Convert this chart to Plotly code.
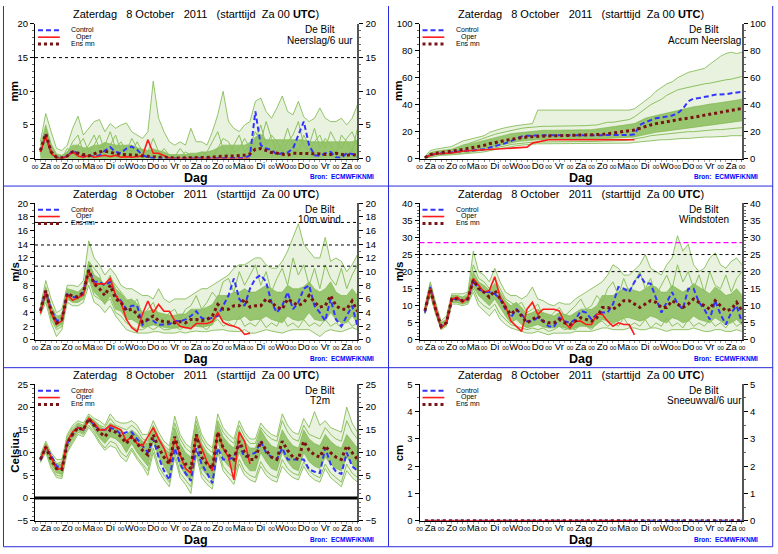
import plotly.graph_objects as go

W, H = 778, 554

# forecast steps (hours after Za 00 UTC) and day labels
HOURS = list(range(6, 361, 6))
OPER_HOURS = HOURS[:40]
DAY_NAMES = ["Za", "Zo", "Ma", "Di", "Wo", "Do", "Vr",
             "Za", "Zo", "Ma", "Di", "Wo", "Do", "Vr", "Za"]

# ---- Neerslag/6 uur (mm)
prc_ctrl = [1.0, 3.5, 1.0, 0.2, 0.1, 0.3, 1.2, 0.8, 0.3, 0.5,
            0.3, 0.5, 1.2, 1.7, 1.0, 0.8, 1.5, 1.8, 1.3, 0.5,
            0.2, 0.1, 0.0, 0.0, 0.0, 0.0, 0.0, 0.0, 0.0, 0.0,
            0.0, 0.0, 0.0, 0.0, 0.0, 0.0, 0.0, 0.0, 0.1, 0.5,
            7.0, 2.0, 1.5, 1.3, 0.6, 0.8, 0.9, 1.5, 3.5, 5.5,
            2.0, 0.5, 0.4, 0.8, 1.0, 0.2, 0.1, 0.8, 0.7, 0.3]
prc_oper = [1.0, 3.3, 0.8, 0.1, 0.0, 0.3, 1.0, 0.4, 0.2, 0.5,
            0.2, 0.3, 0.5, 0.3, 0.5, 0.2, 0.3, 0.2, 0.3, 0.4,
            2.8, 0.8, 0.8, 0.5, 0.1, 0.0, 0.0, 0.0, 0.0, 0.0,
            0.0, 0.0, 0.0, 0.0, 0.0, 0.0, 0.0, 0.0, 0.0, 0.0]
prc_mean = [1.2, 3.7, 1.0, 0.2, 0.1, 0.4, 1.0, 0.8, 0.6, 0.4,
            0.7, 1.0, 1.1, 0.9, 0.7, 0.6, 0.6, 0.6, 0.5, 0.4,
            0.3, 0.3, 0.2, 0.2, 0.1, 0.1, 0.1, 0.1, 0.1, 0.1,
            0.1, 0.1, 0.2, 0.3, 0.4, 0.4, 0.4, 0.4, 0.5, 0.7,
            1.4, 1.5, 1.2, 0.9, 0.8, 0.7, 0.5, 0.8, 0.8, 0.8,
            0.7, 0.7, 0.7, 0.6, 0.6, 0.8, 0.7, 0.5, 0.6, 0.5]
prc_lo = [0.0] * 60
prc_hi = [2.0, 5.0, 2.2, 0.7, 0.5, 1.0, 2.0, 2.0, 1.6, 1.6,
          2.0, 2.0, 2.4, 2.2, 2.0, 2.0, 2.0, 2.0, 1.6, 1.4,
          1.2, 1.4, 1.2, 1.0, 0.6, 0.6, 0.6, 0.6, 0.8, 0.8,
          1.0, 1.0, 1.2, 1.6, 2.0, 2.0, 2.0, 2.0, 2.0, 2.4,
          3.2, 3.6, 2.8, 2.8, 2.8, 2.8, 2.8, 2.8, 2.8, 2.8,
          2.5, 2.5, 2.5, 2.5, 2.5, 2.5, 2.5, 2.5, 2.5, 2.8]
prc_min = [0.0] * 60
prc_max = [2.5, 6.7, 4.0, 1.5, 1.2, 2.0, 4.5, 6.3, 3.5, 4.5,
           5.5, 5.8, 4.0, 5.2, 4.5, 5.0, 5.3, 4.0, 3.5, 3.0,
           4.0, 11.5, 6.0, 4.0, 2.5, 2.0, 2.5, 2.0, 4.5, 2.5,
           2.5, 2.0, 4.0, 6.5, 10.0, 5.5, 4.5, 4.0, 5.0, 5.5,
           8.5, 9.0, 7.0, 6.0, 7.5, 9.3, 7.0, 6.5, 8.5, 6.2,
           5.5, 6.0, 7.5, 6.0, 5.5, 5.5, 6.0, 5.0, 6.0, 8.0]
prc_m1 = [0.5, 4.5, 2.0, 0.3, 0.2, 0.8, 2.5, 3.5, 1.0, 2.0,
          3.5, 1.5, 2.0, 4.0, 1.5, 2.5, 1.0, 3.0, 1.5, 0.5,
          1.0, 3.0, 1.0, 0.5, 0.2, 0.3, 1.5, 0.5, 0.2, 0.5,
          0.3, 1.0, 2.5, 4.0, 1.5, 0.5, 2.0, 3.5, 1.0, 2.0,
          4.0, 2.5, 5.5, 3.0, 1.0, 2.0, 4.5, 2.0, 1.0, 3.5,
          2.0, 4.5, 1.5, 3.0, 2.0, 0.5, 3.5, 2.5, 1.0, 4.5]
prc_m2 = [1.5, 3.0, 0.5, 0.0, 0.0, 1.5, 1.0, 2.0, 3.0, 1.0,
          2.0, 3.5, 1.0, 2.0, 3.5, 1.0, 2.0, 1.0, 2.5, 1.0,
          0.5, 1.5, 0.5, 1.5, 0.5, 0.2, 0.2, 1.0, 0.5, 0.2,
          1.0, 0.5, 0.2, 1.5, 3.0, 2.5, 1.0, 1.5, 3.0, 1.5,
          2.5, 5.0, 2.0, 3.5, 2.5, 1.0, 2.5, 3.5, 5.5, 2.0,
          1.0, 2.5, 3.5, 1.5, 4.0, 2.5, 1.5, 3.0, 4.0, 2.0]

# ---- Accum Neerslag (mm)
acc_ctrl = [0.5, 2.5, 3.5, 4.0, 4.2, 4.5, 5.2, 5.5, 5.8, 6.0,
            6.5, 7.0, 8.0, 9.5, 10.5, 11.5, 13.0, 15.0, 16.5, 17.0,
            17.2, 17.3, 17.3, 17.3, 17.3, 17.3, 17.3, 17.3, 17.3, 17.3,
            17.3, 17.3, 17.3, 17.3, 17.3, 17.3, 17.3, 17.4, 17.5, 18.0,
            25.0, 27.0, 28.5, 30.0, 30.5, 31.3, 32.0, 33.5, 37.0, 42.5,
            44.5, 45.0, 45.5, 46.5, 47.5, 47.7, 47.8, 48.6, 49.3, 49.6]
acc_oper = [0.5, 2.5, 3.5, 4.0, 4.0, 4.2, 5.0, 5.5, 5.8, 6.0,
            6.2, 6.5, 6.8, 7.0, 7.3, 7.5, 7.8, 8.0, 8.3, 8.5,
            11.5, 12.5, 13.5, 14.0, 14.0, 14.0, 14.0, 14.0, 14.0, 14.0,
            14.0, 14.0, 14.0, 14.0, 14.0, 14.0, 14.0, 14.0, 14.0, 14.0]
acc_mean = [0.6, 3.0, 4.0, 4.5, 4.7, 5.0, 6.0, 6.8, 7.5, 8.0,
            8.8, 9.8, 11.0, 12.0, 12.8, 13.5, 14.3, 15.0, 15.5, 16.0,
            16.3, 16.6, 16.8, 17.0, 17.0, 17.0, 17.1, 17.1, 17.2, 17.3,
            17.4, 17.5, 17.7, 18.0, 18.5, 19.0, 19.5, 20.0, 20.5, 21.2,
            22.5, 24.0, 25.0, 26.0, 26.8, 27.5, 28.2, 28.8, 29.5, 30.0,
            30.7, 31.5, 32.3, 33.0, 33.8, 34.5, 35.2, 36.0, 36.7, 37.3]
acc_lo = [0.2, 2.0, 3.0, 3.5, 3.5, 3.8, 4.5, 5.0, 5.5, 6.0,
          6.5, 7.0, 8.0, 9.0, 10.0, 11.0, 12.0, 12.5, 13.0, 13.5,
          13.8, 14.0, 14.0, 14.0, 14.0, 14.0, 14.0, 14.0, 14.2, 14.3,
          14.4, 14.5, 14.6, 14.8, 15.0, 15.2, 15.4, 15.6, 15.8, 16.0,
          17.0, 18.0, 19.0, 19.5, 20.0, 20.5, 21.0, 21.5, 22.0, 22.5,
          23.0, 23.5, 24.0, 24.5, 25.0, 25.5, 26.0, 26.5, 27.0, 28.0]
acc_hi = [1.0, 4.5, 5.5, 6.0, 6.5, 7.0, 8.5, 9.5, 10.5, 11.5,
          12.5, 13.5, 15.0, 16.0, 17.0, 18.0, 18.5, 19.0, 19.5, 20.0,
          20.5, 21.0, 21.0, 21.0, 21.0, 21.0, 21.0, 21.0, 21.5, 21.5,
          21.5, 21.5, 22.0, 22.5, 23.0, 23.5, 24.0, 24.5, 25.0, 26.0,
          28.0, 30.0, 31.0, 32.0, 33.0, 34.0, 35.0, 36.0, 37.0, 38.0,
          38.5, 39.0, 40.0, 40.5, 41.0, 41.5, 42.0, 42.5, 43.0, 44.0]
acc_min = [0.0, 1.0, 2.0, 2.5, 2.5, 2.8, 3.0, 3.2, 3.5, 4.0,
           4.5, 5.0, 6.0, 7.0, 7.5, 8.0, 9.0, 9.5, 10.0, 10.5,
           11.0, 11.0, 11.0, 11.0, 11.0, 11.0, 11.0, 11.0, 11.0, 11.0,
           11.0, 11.0, 11.0, 11.0, 11.0, 11.0, 11.0, 11.0, 11.5, 12.0,
           12.5, 13.0, 13.0, 13.5, 14.0, 14.0, 14.5, 14.5, 15.0, 15.0,
           15.5, 15.5, 16.0, 16.0, 16.0, 16.5, 16.5, 17.0, 17.0, 17.0]
acc_max = [1.5, 6.0, 7.0, 7.5, 8.0, 9.0, 11.0, 13.0, 14.0, 15.0,
           16.0, 17.0, 19.5, 21.0, 22.0, 23.0, 24.0, 24.5, 25.0, 25.5,
           26.0, 36.0, 36.0, 36.0, 36.0, 36.0, 36.0, 36.0, 36.0, 36.0,
           36.0, 36.0, 36.0, 36.0, 36.0, 36.0, 36.0, 36.0, 36.0, 37.0,
           40.0, 43.0, 46.0, 50.0, 53.0, 55.5, 57.0, 60.0, 62.0, 64.0,
           65.0, 66.0, 67.0, 70.0, 73.0, 76.0, 78.0, 79.0, 78.0, 79.0]
acc_m1 = [0.8, 4.0, 5.0, 5.5, 6.0, 6.5, 8.0, 10.0, 11.0, 12.5,
          14.0, 15.0, 16.5, 18.0, 19.0, 20.0, 21.0, 22.0, 22.5, 23.0,
          23.5, 24.0, 24.0, 24.0, 24.0, 24.0, 24.0, 24.2, 24.5, 24.5,
          24.5, 24.8, 25.0, 26.0, 27.0, 27.0, 27.5, 28.0, 29.0, 31.0,
          34.0, 37.0, 40.0, 42.0, 44.0, 47.0, 49.0, 51.0, 52.0, 53.0,
          54.0, 55.0, 55.5, 56.0, 57.0, 58.0, 58.5, 59.0, 60.0, 61.0]
acc_m2 = [0.2, 1.5, 2.5, 3.0, 3.0, 3.2, 3.5, 4.0, 4.5, 5.0,
          5.5, 6.0, 7.0, 8.0, 8.5, 9.5, 10.5, 11.0, 11.5, 12.0,
          12.2, 12.3, 12.3, 12.3, 12.3, 12.3, 12.3, 12.3, 12.5, 12.5,
          12.5, 12.5, 12.8, 13.0, 13.0, 13.2, 13.5, 13.5, 14.0, 14.5,
          15.0, 16.0, 17.0, 17.5, 18.0, 18.0, 18.5, 19.0, 19.5, 20.0,
          20.0, 20.5, 21.0, 21.0, 21.5, 21.5, 22.0, 22.0, 22.5, 23.0]

# ---- 10m wind (m/s)
w_ctrl = [4.2, 7.0, 4.5, 2.8, 3.0, 6.7, 6.3, 6.2, 7.0, 10.3,
          8.5, 8.5, 8.0, 8.5, 6.5, 5.7, 4.5, 5.0, 5.0, 2.2,
          3.0, 2.8, 2.2, 2.2, 2.3, 2.8, 2.7, 3.0, 3.5, 4.2,
          3.2, 3.0, 3.2, 3.5, 5.0, 6.5, 9.0, 6.0, 5.0, 7.5,
          9.0, 9.5, 8.5, 5.5, 4.0, 5.0, 7.0, 4.5, 5.5, 7.5,
          8.0, 5.0, 4.0, 2.8, 6.0, 3.0, 2.0, 3.5, 5.0, 2.0]
w_oper = [3.9, 7.0, 4.0, 2.3, 2.8, 6.6, 5.8, 6.2, 6.6, 10.2,
          8.2, 8.2, 8.2, 9.0, 6.5, 5.5, 3.0, 1.8, 1.2, 3.8,
          5.7, 4.0, 5.2, 4.2, 4.2, 2.8, 2.0, 1.8, 1.7, 2.4,
          2.4, 2.4, 2.7, 4.0, 2.6, 2.2, 2.0, 1.7, 0.8, 1.0]
w_mean = [4.3, 7.2, 4.2, 2.5, 3.0, 6.8, 6.4, 6.3, 7.0, 10.2,
          8.2, 7.5, 6.5, 8.0, 6.0, 5.5, 4.3, 4.5, 3.8, 2.6,
          3.0, 3.5, 2.8, 2.7, 2.5, 2.5, 2.7, 2.5, 3.0, 3.0,
          2.8, 3.0, 3.5, 5.2, 4.5, 4.5, 5.0, 5.0, 6.0, 4.8,
          5.0, 5.0, 6.0, 5.5, 4.8, 4.5, 6.0, 5.5, 5.0, 5.5,
          6.5, 5.5, 4.8, 5.0, 6.5, 5.0, 4.5, 4.5, 5.7, 4.2]
w_lo = [3.8, 6.0, 3.4, 1.8, 2.3, 6.0, 5.6, 5.6, 6.2, 9.0,
        7.0, 6.2, 5.2, 6.5, 4.5, 4.2, 3.0, 3.0, 2.5, 1.8,
        2.0, 2.2, 2.0, 1.8, 1.7, 1.7, 1.9, 1.8, 2.0, 2.0,
        1.9, 2.0, 2.2, 3.5, 3.0, 2.8, 3.0, 3.0, 3.5, 2.8,
        3.0, 3.0, 3.5, 3.0, 2.8, 2.5, 3.5, 3.0, 2.8, 3.0,
        4.0, 3.0, 2.8, 2.8, 4.0, 3.0, 2.5, 2.5, 3.5, 2.5]
w_hi = [4.8, 7.8, 5.0, 3.3, 3.8, 7.5, 7.3, 7.0, 7.8, 11.5,
        9.5, 9.0, 8.0, 9.5, 7.5, 6.8, 5.8, 6.0, 5.3, 4.0,
        4.2, 4.5, 4.0, 3.8, 3.6, 3.6, 3.8, 3.8, 4.5, 4.5,
        4.5, 4.8, 5.2, 6.5, 6.5, 6.5, 7.0, 7.0, 7.5, 7.0,
        7.0, 7.5, 8.0, 7.5, 7.0, 7.0, 8.0, 7.5, 7.5, 7.8,
        8.5, 7.5, 7.0, 7.5, 8.5, 7.0, 6.5, 6.5, 7.5, 6.5]
w_min = [3.6, 5.5, 2.5, 0.5, 1.5, 5.5, 5.0, 5.0, 5.5, 8.0,
         5.5, 5.0, 4.0, 5.0, 3.5, 2.5, 1.5, 1.2, 1.0, 1.0,
         1.0, 1.2, 1.2, 1.0, 1.0, 1.0, 1.2, 1.0, 1.2, 1.3,
         1.2, 1.2, 1.4, 1.5, 1.5, 1.3, 1.2, 1.2, 1.5, 1.0,
         1.0, 1.2, 1.5, 1.3, 1.2, 1.0, 1.3, 1.5, 1.5, 1.5,
         1.5, 1.0, 0.5, 1.2, 1.5, 1.3, 1.2, 1.5, 1.8, 1.5]
w_max = [5.0, 8.7, 6.0, 4.0, 4.5, 8.0, 8.0, 7.8, 8.7, 14.5,
         12.0, 11.0, 9.5, 10.5, 9.5, 8.0, 7.5, 7.5, 7.0, 6.5,
         6.5, 6.0, 7.5, 6.0, 5.5, 6.0, 6.0, 6.0, 6.5, 7.0,
         7.5, 7.5, 8.0, 8.5, 9.0, 9.5, 10.5, 11.0, 11.0, 11.5,
         12.0, 12.0, 11.0, 10.5, 10.5, 11.5, 13.0, 15.0, 17.0, 14.0,
         13.0, 12.0, 12.0, 15.0, 11.5, 12.0, 11.5, 10.0, 11.0, 12.5]
w_m1 = [4.5, 7.5, 5.0, 3.5, 3.5, 7.0, 7.0, 6.5, 7.5, 11.5,
        10.5, 9.5, 7.0, 9.0, 8.0, 7.0, 6.0, 5.0, 6.0, 3.5,
        4.5, 5.5, 3.5, 3.0, 4.0, 4.5, 3.0, 4.5, 5.0, 6.5,
        4.5, 5.5, 7.0, 6.0, 8.5, 9.0, 7.0, 10.0, 8.0, 9.5,
        11.0, 8.0, 10.0, 7.0, 9.0, 10.5, 8.0, 12.0, 9.5, 11.0,
        8.0, 10.5, 7.5, 11.0, 9.0, 8.0, 10.5, 7.5, 9.5, 11.0]
w_m2 = [4.0, 6.5, 3.0, 1.5, 2.0, 6.0, 5.5, 5.5, 6.0, 9.0,
        6.5, 6.0, 5.5, 6.0, 4.0, 3.5, 2.5, 2.0, 1.5, 1.5,
        2.0, 1.5, 2.0, 1.5, 1.5, 2.0, 1.5, 2.0, 1.5, 2.5,
        2.0, 1.5, 2.5, 3.0, 2.0, 2.5, 2.0, 3.5, 2.0, 2.5,
        2.0, 3.0, 1.8, 2.5, 2.0, 3.5, 2.0, 2.5, 1.8, 3.0,
        2.0, 2.5, 2.0, 3.0, 2.0, 2.5, 1.8, 3.0, 2.0, 2.5]

# ---- Windstoten (m/s)
g_ctrl = [8.0, 15.5, 9.0, 4.0, 5.0, 12.0, 12.0, 11.5, 12.0, 17.5,
          15.0, 14.0, 14.0, 13.5, 12.0, 9.0, 6.5, 9.0, 7.5, 5.5,
          5.5, 6.5, 5.5, 4.0, 3.8, 6.5, 5.5, 5.0, 6.0, 8.5,
          8.0, 6.0, 7.5, 8.0, 8.0, 10.5, 15.5, 15.0, 14.0, 17.0,
          19.0, 16.5, 16.5, 12.0, 8.0, 11.0, 14.0, 10.5, 9.0, 15.0,
          15.0, 11.0, 9.0, 6.0, 11.5, 7.5, 4.5, 8.0, 10.0, 5.0]
g_oper = [9.0, 15.0, 9.0, 3.5, 5.0, 12.0, 12.5, 11.0, 12.5, 18.0,
          16.0, 14.0, 14.5, 18.5, 12.5, 10.0, 5.5, 4.0, 2.5, 9.0,
          11.0, 7.5, 9.0, 9.0, 9.0, 8.5, 5.0, 3.5, 5.5, 5.5,
          4.5, 4.5, 7.5, 7.5, 5.5, 4.0, 5.0, 4.5, 4.5, 1.5]
g_mean = [8.5, 15.0, 9.0, 4.0, 5.0, 12.0, 12.0, 11.5, 12.0, 17.5,
          15.0, 14.0, 12.5, 14.5, 12.0, 9.5, 7.5, 9.0, 7.0, 5.0,
          6.0, 7.0, 5.5, 5.0, 5.0, 6.0, 5.0, 4.5, 5.5, 6.5,
          6.0, 5.5, 6.5, 9.5, 9.5, 9.0, 10.0, 11.5, 11.5, 10.5,
          9.5, 10.5, 11.5, 11.0, 9.5, 9.5, 11.5, 10.5, 9.5, 10.5,
          12.0, 11.0, 10.0, 9.0, 11.5, 10.0, 8.5, 9.0, 11.0, 8.5]
g_lo = [7.8, 13.5, 8.0, 3.3, 4.3, 11.0, 11.0, 10.5, 11.0, 15.5,
        13.0, 11.5, 10.0, 12.0, 9.5, 7.0, 5.0, 6.0, 4.5, 3.5,
        4.0, 4.5, 3.8, 3.5, 3.5, 4.0, 3.5, 3.0, 3.5, 4.0,
        4.0, 3.5, 4.5, 6.0, 5.5, 5.0, 5.5, 6.5, 6.5, 6.0,
        5.5, 6.0, 7.0, 6.5, 5.5, 5.0, 6.5, 6.0, 5.0, 5.5,
        7.0, 6.0, 5.5, 5.0, 6.5, 5.5, 4.5, 5.0, 6.0, 4.5]
g_hi = [9.5, 16.0, 10.0, 5.0, 6.0, 13.0, 13.0, 12.5, 13.0, 20.0,
        17.0, 16.0, 14.5, 16.5, 14.0, 11.5, 10.0, 11.0, 9.5, 7.5,
        8.0, 9.0, 8.0, 7.5, 7.0, 8.0, 7.5, 7.0, 8.0, 9.0,
        9.0, 9.0, 10.0, 13.0, 13.0, 13.0, 14.0, 15.0, 15.0, 14.5,
        14.0, 15.0, 16.0, 15.5, 14.0, 14.0, 16.0, 15.0, 14.0, 15.0,
        16.5, 15.5, 14.5, 13.5, 15.5, 14.5, 13.0, 13.5, 15.0, 13.0]
g_min = [7.5, 13.0, 7.5, 3.0, 4.0, 10.5, 10.5, 10.0, 10.5, 14.0,
         10.0, 8.5, 7.0, 9.0, 6.0, 4.5, 3.5, 3.0, 2.5, 2.0,
         2.0, 2.5, 2.0, 1.5, 2.0, 2.0, 2.0, 2.0, 2.5, 2.5,
         2.5, 2.5, 3.0, 3.5, 3.5, 3.0, 3.0, 3.0, 3.5, 3.5,
         3.0, 3.0, 3.5, 3.5, 3.0, 2.5, 3.0, 3.0, 3.0, 3.0,
         3.5, 3.0, 2.5, 2.5, 3.0, 3.0, 2.5, 2.5, 3.0, 2.5]
g_max = [10.0, 17.0, 11.0, 5.5, 7.0, 13.5, 13.5, 13.5, 14.0, 26.0,
         20.0, 19.0, 17.0, 21.0, 17.0, 14.0, 13.0, 13.0, 12.0, 13.0,
         15.5, 12.0, 11.5, 10.5, 10.0, 11.0, 10.5, 10.5, 12.0, 13.0,
         14.0, 15.0, 16.0, 17.0, 19.0, 22.0, 21.0, 19.0, 19.0, 20.5,
         22.0, 25.0, 21.0, 20.0, 19.0, 22.0, 24.0, 30.5, 26.0, 28.0,
         22.0, 20.0, 21.0, 24.0, 25.5, 22.0, 21.0, 23.0, 24.0, 22.0]
g_m1 = [9.0, 16.5, 10.5, 5.0, 6.0, 13.0, 13.0, 12.5, 13.5, 22.0,
        18.0, 17.0, 15.0, 18.0, 15.0, 12.0, 11.0, 10.0, 11.0, 8.0,
        9.0, 10.5, 7.0, 6.5, 8.0, 9.5, 7.0, 8.5, 10.0, 12.0,
        9.0, 10.0, 13.0, 11.0, 15.0, 17.0, 13.0, 18.0, 14.0, 17.0,
        20.0, 15.0, 18.0, 13.0, 16.0, 19.0, 15.0, 22.0, 17.0, 20.0,
        15.0, 19.0, 14.0, 20.0, 16.0, 15.0, 19.0, 14.0, 18.0, 20.0]
g_m2 = [8.0, 14.0, 8.0, 3.5, 4.5, 11.0, 11.0, 10.5, 11.0, 15.0,
        11.5, 10.0, 9.0, 10.5, 7.5, 6.0, 4.5, 4.0, 3.5, 3.0,
        3.5, 3.0, 3.5, 2.5, 3.0, 4.0, 3.0, 3.5, 3.0, 5.0,
        4.0, 3.0, 5.0, 5.5, 4.0, 5.0, 4.0, 6.5, 4.0, 5.0,
        4.0, 6.0, 3.5, 5.0, 4.0, 6.5, 4.0, 5.0, 3.5, 6.0,
        4.0, 5.0, 4.0, 6.0, 4.0, 5.0, 3.5, 6.0, 4.0, 5.0]

# ---- T2m (Celsius)
t_ctrl = [8.3, 11.0, 9.5, 7.0, 6.8, 12.0, 14.0, 15.5, 15.0, 17.5,
          16.0, 15.0, 15.0, 15.5, 15.0, 14.0, 14.5, 14.5, 13.0, 11.5,
          10.0, 13.0, 9.0, 6.0, 4.0, 11.0, 7.5, 5.5, 3.8, 11.0,
          7.5, 5.5, 3.3, 11.0, 8.5, 8.5, 9.0, 11.5, 9.0, 9.5,
          10.0, 12.5, 10.0, 9.0, 8.5, 11.0, 8.5, 8.5, 8.5, 8.5,
          6.3, 5.8, 5.5, 11.0, 7.5, 5.8, 5.3, 10.0, 7.0, 6.0]
t_oper = [8.5, 11.5, 9.0, 6.3, 6.5, 12.5, 14.5, 15.5, 15.0, 17.5,
          16.5, 15.0, 15.0, 16.0, 15.5, 15.0, 12.5, 13.5, 12.0, 11.5,
          13.5, 15.5, 13.0, 11.0, 7.5, 13.0, 9.5, 6.5, 5.5, 14.0,
          11.0, 8.0, 6.0, 14.5, 11.0, 9.0, 4.0, 14.5, 12.5, 7.5]
t_mean = [8.5, 11.2, 8.5, 6.5, 6.3, 12.0, 14.0, 15.5, 15.0, 17.5,
          16.0, 14.5, 13.5, 15.0, 14.5, 13.5, 12.0, 13.5, 12.0, 10.5,
          9.5, 14.0, 11.0, 9.0, 7.5, 13.5, 9.5, 7.5, 6.5, 14.0,
          9.0, 7.5, 6.5, 14.5, 11.0, 9.5, 8.5, 12.5, 10.0, 8.5,
          8.5, 12.5, 10.5, 9.0, 8.5, 12.5, 10.5, 9.0, 8.5, 12.5,
          10.5, 9.5, 9.0, 11.5, 10.0, 9.0, 8.5, 11.5, 10.0, 8.5]
t_lo = [8.0, 10.5, 7.5, 5.5, 5.2, 11.0, 13.0, 14.8, 14.2, 16.8,
        15.0, 13.2, 12.0, 13.5, 13.0, 12.0, 10.0, 12.0, 10.0, 8.5,
        7.0, 12.5, 9.0, 7.0, 5.0, 11.5, 7.0, 5.0, 4.0, 12.0,
        6.5, 5.0, 4.0, 12.5, 8.5, 7.0, 6.0, 10.0, 7.5, 6.0,
        6.0, 10.0, 8.0, 6.5, 6.0, 10.0, 8.0, 6.5, 6.0, 10.0,
        8.0, 7.0, 6.5, 9.0, 7.5, 6.5, 6.0, 9.0, 7.5, 6.0]
t_hi = [9.0, 12.0, 9.5, 7.5, 7.5, 13.0, 15.0, 16.3, 15.8, 18.0,
        17.0, 15.8, 15.0, 16.5, 15.8, 15.0, 14.0, 15.0, 14.0, 12.5,
        12.0, 15.5, 13.0, 11.0, 10.0, 15.5, 12.0, 10.0, 9.0, 16.0,
        12.0, 10.0, 9.0, 16.5, 13.5, 12.0, 11.0, 15.0, 12.5, 11.0,
        11.0, 15.0, 13.0, 11.5, 11.0, 15.0, 13.0, 11.5, 11.0, 15.0,
        13.0, 12.0, 11.5, 14.0, 12.5, 11.5, 11.0, 14.0, 12.5, 11.0]
t_min = [7.8, 10.0, 6.5, 4.5, 4.3, 10.0, 12.0, 14.0, 13.5, 15.5,
         14.0, 12.0, 10.5, 11.5, 11.0, 9.0, 8.0, 10.5, 8.5, 7.0,
         5.0, 10.0, 6.0, 4.0, 2.5, 9.0, 4.5, 3.0, 1.0, 9.5,
         4.5, 3.0, 2.0, 10.0, 6.0, 4.5, 3.0, 7.5, 5.0, 4.0,
         3.5, 7.0, 5.0, 4.0, 3.5, 7.0, 5.5, 4.5, 4.0, 7.0,
         5.0, 4.0, 3.5, 6.5, 4.5, 3.5, 2.5, 6.0, 4.5, 3.5]
t_max = [9.5, 12.5, 10.0, 8.5, 8.5, 14.0, 16.0, 17.0, 16.5, 18.5,
         17.5, 17.0, 16.0, 18.5, 17.0, 16.5, 16.5, 17.0, 16.0, 14.0,
         14.0, 17.0, 14.5, 12.5, 11.5, 18.0, 14.0, 12.0, 11.0, 18.0,
         14.0, 12.0, 11.0, 18.5, 15.5, 14.0, 13.0, 17.0, 14.5, 13.0,
         13.0, 16.5, 15.0, 14.0, 13.5, 18.5, 16.0, 14.5, 14.0, 17.5,
         15.5, 19.0, 16.0, 17.0, 15.5, 15.0, 14.5, 20.0, 16.5, 14.5]
t_m1 = [8.8, 12.0, 9.5, 7.5, 8.0, 13.5, 15.5, 16.5, 16.0, 18.0,
        17.0, 16.0, 15.5, 17.5, 16.0, 15.5, 15.0, 16.0, 15.0, 13.0,
        12.5, 16.0, 13.5, 11.5, 10.5, 16.5, 13.0, 11.0, 10.0, 17.0,
        13.0, 11.0, 10.0, 17.0, 14.5, 13.0, 12.0, 16.0, 13.5, 12.0,
        12.0, 15.5, 14.0, 13.0, 12.5, 17.0, 14.5, 13.0, 12.5, 16.0,
        14.0, 13.5, 13.0, 15.5, 14.0, 13.0, 12.5, 17.0, 14.5, 13.0]
t_m2 = [8.0, 10.5, 7.0, 5.0, 4.8, 10.5, 12.5, 14.5, 14.0, 16.0,
        14.5, 12.5, 11.0, 12.5, 12.0, 10.0, 9.0, 11.0, 9.0, 7.5,
        6.0, 11.0, 7.0, 5.0, 3.5, 10.0, 5.5, 4.0, 2.5, 10.5,
        5.5, 4.0, 3.0, 11.0, 7.0, 5.5, 4.5, 8.5, 6.0, 5.0,
        4.5, 8.0, 6.0, 5.0, 4.5, 8.5, 6.5, 5.5, 5.0, 8.0,
        6.0, 5.0, 4.5, 7.5, 5.5, 4.5, 3.5, 7.5, 5.5, 4.5]

# ---- Sneeuwval/6 uur (cm): nothing forecast
snow_ctrl = [0.0] * 60
snow_oper = [0.0] * 40
snow_mean = [0.0] * 60

# threshold lines
PRC_LINES = [15]
WIND_LINES = [10.8, 13.9, 17.2]
GUST_LINES = [20, 25]
GUST_WARN = 28.5

GREEN = "#7ab648"
MEMBER = "#8cc060"
CORE = "rgba(118,178,62,0.70)"
OUTER = "rgba(140,192,96,0.20)"
C_CTRL = "#3333ff"
C_OPER = "#ff1a1a"
C_MEAN = "#7a1414"
FRAME = "#2a2ae0"
FONT = "Liberation Sans, Arial, sans-serif"

# pixel geometry of the plot areas
COLS = [(32.3, 357.7), (420.3, 745.7)]
ROWS = [(18.3, 155.7), (201.3, 340.7), (386.0, 525.3)]

PANELS = [
    dict(name="Neerslag/6 uur", unit="mm", rng=[0, 20], dtick=5, minor=1,
         ctrl=prc_ctrl, oper=prc_oper, mean=prc_mean, lo=prc_lo, hi=prc_hi,
         mn=prc_min, mx=prc_max, members=[prc_m1, prc_m2], dots=PRC_LINES),
    dict(name="Accum Neerslag", unit="mm", rng=[0, 100], dtick=20, minor=5,
         ctrl=acc_ctrl, oper=acc_oper, mean=acc_mean, lo=acc_lo, hi=acc_hi,
         mn=acc_min, mx=acc_max, members=[acc_m1, acc_m2], dots=[]),
    dict(name="10m wind", unit="m/s", rng=[0, 20], dtick=2, minor=1,
         ctrl=w_ctrl, oper=w_oper, mean=w_mean, lo=w_lo, hi=w_hi,
         mn=w_min, mx=w_max, members=[w_m1, w_m2], dots=WIND_LINES),
    dict(name="Windstoten", unit="m/s", rng=[0, 40], dtick=5, minor=1,
         ctrl=g_ctrl, oper=g_oper, mean=g_mean, lo=g_lo, hi=g_hi,
         mn=g_min, mx=g_max, members=[g_m1, g_m2], dots=GUST_LINES),
    dict(name="T2m", unit="Celsius", rng=[-5, 25], dtick=5, minor=1,
         ctrl=t_ctrl, oper=t_oper, mean=t_mean, lo=t_lo, hi=t_hi,
         mn=t_min, mx=t_max, members=[t_m1, t_m2], dots=[]),
    dict(name="Sneeuwval/6 uur", unit="cm", rng=[0, 5], dtick=1, minor=0.5,
         ctrl=snow_ctrl, oper=snow_oper, mean=snow_mean, lo=None, hi=None,
         mn=None, mx=None, members=[], dots=[]),
]

TITLE = ("Zaterdag\u00a0\u00a0 8 October\u00a0\u00a0 2011\u00a0\u00a0 "
         "(starttijd\u00a0 Za 00 <b>UTC</b>)")


def px(x):
    return x / W


def py(y):
    return 1 - y / H


fig = go.Figure()
shapes = []
annotations = []
layout = {}

for i, p in enumerate(PANELS, start=1):
    col = (i - 1) % 2
    row = (i - 1) // 2
    x0, x1 = COLS[col]
    top, bot = ROWS[row]
    xa = "x" if i == 1 else "x%d" % i
    ya = "y" if i == 1 else "y%d" % i
    yr = "y%d" % (i + 6)
    x00 = "x%d" % (i + 12)
    xk = "xaxis" if i == 1 else "xaxis%d" % i
    yk = "yaxis" if i == 1 else "yaxis%d" % i

    common = dict(mode="lines", xaxis=xa, yaxis=ya, hoverinfo="skip",
                  showlegend=False)
    if p["mx"] is not None:
        fig.add_trace(go.Scatter(x=HOURS, y=p["mn"],
                                 line=dict(color=GREEN, width=0.8), **common))
        fig.add_trace(go.Scatter(x=HOURS, y=p["mx"], fill="tonexty",
                                 fillcolor=OUTER,
                                 line=dict(color=GREEN, width=0.8), **common))
        fig.add_trace(go.Scatter(x=HOURS, y=p["lo"],
                                 line=dict(color=GREEN, width=0.6), **common))
        fig.add_trace(go.Scatter(x=HOURS, y=p["hi"], fill="tonexty",
                                 fillcolor=CORE,
                                 line=dict(color=GREEN, width=0.6), **common))
    for m in p["members"]:
        fig.add_trace(go.Scatter(x=HOURS, y=m,
                                 line=dict(color=MEMBER, width=1), **common))
    fig.add_trace(go.Scatter(x=HOURS, y=p["ctrl"],
                             line=dict(color=C_CTRL, width=2, dash="5px,3px"),
                             **common))
    fig.add_trace(go.Scatter(x=OPER_HOURS, y=p["oper"],
                             line=dict(color=C_OPER, width=1.6), **common))
    fig.add_trace(go.Scatter(x=HOURS, y=p["mean"],
                             line=dict(color=C_MEAN, width=3, dash="3px,3px"),
                             **common))
    # empty traces so the right-hand y axis and the "00" x axis are drawn
    fig.add_trace(go.Scatter(x=[None], y=[None], xaxis=xa, yaxis=yr,
                             showlegend=False, hoverinfo="skip"))
    fig.add_trace(go.Scatter(x=[None], y=[None], xaxis=x00, yaxis=ya,
                             showlegend=False, hoverinfo="skip"))

    # day names at midday
    layout[xk] = dict(
        domain=[px(x0), px(x1)], anchor=ya, range=[0, 360],
        tickmode="array", tickvals=[24 * k + 12 for k in range(15)],
        ticktext=DAY_NAMES, tickangle=0, ticks="",
        ticklabelstandoff=-2,
        tickfont=dict(size=9.5, color="black"),
        showline=True, linecolor="black", linewidth=1,
        showgrid=False, zeroline=False, fixedrange=True)
    # "00" at every day boundary
    layout["xaxis%d" % (i + 12)] = dict(
        overlaying=xa, anchor=ya, side="bottom", range=[0, 360],
        tickmode="array", tickvals=[24 * k for k in range(16)],
        ticktext=["00"] * 16, tickangle=0,
        ticks="outside", ticklen=2, tickcolor="#888888",
        ticklabelstandoff=0,
        tickfont=dict(size=6, color="black"),
        minor=dict(ticks="outside", ticklen=2, dtick=6, tickcolor="#aaaaaa"),
        showline=False, showgrid=False, zeroline=False, fixedrange=True)
    yax = dict(
        domain=[py(bot), py(top)], anchor=xa, range=p["rng"],
        dtick=p["dtick"], tick0=0, ticks="outside", ticklen=4,
        tickcolor="black", tickfont=dict(size=9.5, color="black"),
        minor=dict(ticks="outside", ticklen=2, dtick=p["minor"],
                   tickcolor="#666666"),
        showgrid=False, zeroline=False, fixedrange=True)
    layout[yk] = dict(yax, showline=True, linecolor="black", linewidth=1)
    layout["yaxis%d" % (i + 6)] = dict(
        yax, overlaying=ya, side="right", showline=True,
        linecolor="#555555", linewidth=2)

    for v in p["dots"]:
        shapes.append(dict(type="line", xref=xa + " domain", yref=ya,
                           x0=0, x1=1, y0=v, y1=v,
                           line=dict(color="black", width=1, dash="dot")))
    if i == 4:
        shapes.append(dict(type="line", xref=xa + " domain", yref=ya,
                           x0=0, x1=1, y0=GUST_WARN, y1=GUST_WARN,
                           line=dict(color="#ff00ff", width=1.2,
                                     dash="5px,3px")))
    if i == 5:
        shapes.append(dict(type="line", xref=xa + " domain", yref=ya,
                           x0=0, x1=1, y0=0, y1=0,
                           line=dict(color="black", width=3)))

    # hand-drawn legend
    leg = [("Control", C_CTRL, 2, "5px,3px", 6.5),
           ("Oper", C_OPER, 1.6, "solid", 13.5),
           ("Ens mn", C_MEAN, 3, "3px,3px", 20.5)]
    for label, colr, wd, dash, dy in leg:
        shapes.append(dict(type="line", xref="paper", yref="paper",
                           x0=px(x0 + 3), x1=px(x0 + 25),
                           y0=py(top + dy), y1=py(top + dy),
                           line=dict(color=colr, width=wd, dash=dash)))
        lx = x0 + 39.5 if label == "Oper" else x0 + 34.5
        annotations.append(dict(text=label, x=px(lx), y=py(top + dy - 0.5),
                                xref="paper", yref="paper", showarrow=False,
                                xanchor="left", yanchor="middle",
                                font=dict(size=7, color="black")))

    annotations.append(dict(
        text=TITLE, x=px((x0 + x1) / 2), y=py(top - 10), xref="paper",
        yref="paper", showarrow=False, xanchor="center", yanchor="middle",
        font=dict(size=11, color="black")))
    annotations.append(dict(text="De Bilt", x=px(x0 + 287.5),
                            y=py(top + 6), xref="paper", yref="paper",
                            showarrow=False, xanchor="center",
                            yanchor="middle",
                            font=dict(size=10, color="black")))
    annotations.append(dict(text=p["name"], x=px(x0 + 287.5),
                            y=py(top + 16.5), xref="paper", yref="paper",
                            showarrow=False, xanchor="center",
                            yanchor="middle",
                            font=dict(size=10, color="black")))
    annotations.append(dict(text="<b>Dag</b>", x=px((x0 + x1) / 2),
                            y=py(bot + 19.3), xref="paper", yref="paper",
                            showarrow=False, xanchor="center",
                            yanchor="middle",
                            font=dict(size=12.5, color="black")))
    annotations.append(dict(text="<b>Bron:  ECMWF/KNMI</b>",
                            x=px(x1 + 18.5),
                            y=py(bot + 18.5), xref="paper", yref="paper",
                            showarrow=False, xanchor="right",
                            yanchor="middle",
                            font=dict(size=6.5, color="#0000ff")))
    annotations.append(dict(text="<b>%s</b>" % p["unit"], x=px(x0 - 21),
                            y=py((top + bot) / 2), xref="paper",
                            yref="paper", showarrow=False, textangle=-90,
                            xanchor="center", yanchor="middle",
                            font=dict(size=11.5, color="black")))

# blue panel frames
for xv in [0.5, 389.0, 776.7]:
    shapes.append(dict(type="line", xref="paper", yref="paper",
                       x0=px(xv), x1=px(xv), y0=py(0), y1=py(551.7),
                       line=dict(color=FRAME, width=1)))
for yv in [183.7, 369.0, 551.7]:
    shapes.append(dict(type="line", xref="paper", yref="paper",
                       x0=px(0.5), x1=px(776.7), y0=py(yv), y1=py(yv),
                       line=dict(color=FRAME, width=1)))

fig.update_layout(
    width=W, height=H, margin=dict(l=0, r=0, t=0, b=0),
    paper_bgcolor="white", plot_bgcolor="white",
    font=dict(family=FONT, color="black"),
    showlegend=False, shapes=shapes, annotations=annotations, **layout)

# the page body has a default 8px margin; drop it so the figure sits at 0,0
fig.write_html("out.html", config={"displayModeBar": False},
               post_script="document.body.style.margin='0';")
